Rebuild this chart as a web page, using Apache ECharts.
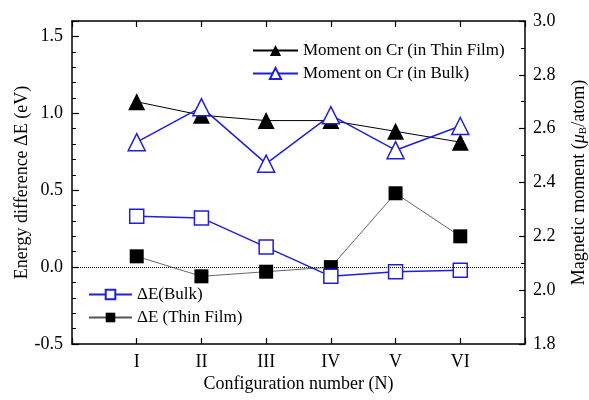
<!DOCTYPE html>
<html>
<head>
<meta charset="utf-8">
<script src="https://cdn.jsdelivr.net/npm/echarts@6/dist/echarts.min.js"></script>
<style>
  html, body { margin: 0; padding: 0; background: #fff; }
  #chart { width: 589px; height: 400px; }
</style>
</head>
<body>
<div id="chart"></div>
<script>
// configuration positions on the x axis (0 and 7 are empty padding slots)
const configPos = [1, 2, 3, 4, 5, 6];
const configLabels = ["", "I", "II", "III", "IV", "V", "VI", ""];

// energy difference (eV), left axis
const dEBulk = [0.33, 0.32, 0.13, -0.06, -0.03, -0.02];
const dEThinFilm = [0.07, -0.06, -0.03, 0.0, 0.48, 0.2];

// magnetic moment on Cr (muB/atom), right axis
const momentThinFilm = [2.7, 2.65, 2.63, 2.63, 2.59, 2.55];
const momentBulk = [2.55, 2.68, 2.47, 2.65, 2.52, 2.61];

const BLUE = "#1f1fd8";
const FONT = "'Liberation Serif', 'Times New Roman', serif";

const pairs = (vals) => vals.map((v, i) => [configPos[i], v]);

const chart = echarts.init(document.getElementById("chart"));

chart.setOption({
  animation: false,
  textStyle: { fontFamily: FONT, color: "#000" },
  grid: {
    left: 72,
    right: 64,
    top: 21,
    bottom: 56,
    containLabel: false,
    outerBoundsMode: "none",
  },
  legend: [
    {
      data: ["Moment on Cr (in Thin Film)", "Moment on Cr (in Bulk)"],
      orient: "vertical",
      left: 252,
      top: 42,
      padding: 0,
      itemWidth: 45,
      itemHeight: 14,
      itemGap: 6,
      textStyle: { fontFamily: FONT, fontSize: 17, color: "#000" },
    },
    {
      data: ["ΔE(Bulk)", "ΔE (Thin Film)"],
      orient: "vertical",
      left: 88,
      top: 286,
      padding: 0,
      itemWidth: 43,
      itemHeight: 12,
      itemGap: 6,
      textStyle: { fontFamily: FONT, fontSize: 17, color: "#000" },
    },
  ],
  xAxis: [
    {
      type: "value",
      min: 0,
      max: 7,
      interval: 1,
      name: "Configuration number (N)",
      nameLocation: "middle",
      nameGap: 31,
      nameMoveOverlap: false,
      nameTextStyle: { fontFamily: FONT, fontSize: 18, color: "#000" },
      axisLine: { onZero: false, lineStyle: { color: "#000", width: 1.5 } },
      axisTick: { inside: true, length: 6, lineStyle: { color: "#000", width: 1.2 } },
      axisLabel: {
        margin: 9,
        fontFamily: FONT,
        fontSize: 18,
        color: "#000",
        formatter: (v) => configLabels[Math.round(v)] || "",
      },
      splitLine: { show: false },
    },
    {
      type: "value",
      position: "top",
      min: 0,
      max: 7,
      interval: 1,
      axisLine: { onZero: false, lineStyle: { color: "#000", width: 1.5 } },
      axisTick: { inside: true, length: 6, lineStyle: { color: "#000", width: 1.2 } },
      axisLabel: { show: false },
      splitLine: { show: false },
    },
  ],
  yAxis: [
    {
      type: "value",
      min: -0.5,
      max: 1.6,
      interval: 0.1,
      name: "Energy difference ΔE (eV)",
      nameLocation: "middle",
      nameGap: 41,
      nameMoveOverlap: false,
      nameTextStyle: { fontFamily: FONT, fontSize: 18, color: "#000" },
      axisLine: { show: true, onZero: false, lineStyle: { color: "#000", width: 1.5 } },
      axisTick: { inside: true, length: 4, lineStyle: { color: "#000", width: 1 } },
      axisLabel: {
        margin: 9,
        interval: 0,
        fontFamily: FONT,
        fontSize: 18,
        color: "#000",
        showMaxLabel: false,
        formatter: (v) =>
          Math.abs(v * 2 - Math.round(v * 2)) < 1e-6 ? v.toFixed(1) : "",
      },
      splitLine: { show: false },
    },
    {
      type: "value",
      min: 1.8,
      max: 3.0,
      interval: 0.2,
      position: "right",
      name: "Magnetic moment ({mu|μ}{sub|B}/atom)",
      nameLocation: "middle",
      nameRotate: 90,
      nameGap: 45,
      nameMoveOverlap: false,
      nameTextStyle: {
        fontFamily: FONT,
        fontSize: 18,
        color: "#000",
        rich: {
          mu: { fontFamily: FONT, fontSize: 18, fontStyle: "italic", color: "#000" },
          sub: { fontFamily: FONT, fontSize: 11, color: "#000", padding: [8, 0, 0, 0] },
        },
      },
      axisLine: { show: true, onZero: false, lineStyle: { color: "#000", width: 1.5 } },
      axisTick: { inside: true, length: 6, lineStyle: { color: "#000", width: 1.2 } },
      minorTick: { show: true, splitNumber: 2, length: 4, lineStyle: { color: "#000", width: 1 } },
      axisLabel: {
        margin: 8,
        fontFamily: FONT,
        fontSize: 18,
        color: "#000",
        formatter: (v) => v.toFixed(1),
      },
      splitLine: { show: false },
    },
    {
      // longer major ticks for the left axis
      type: "value",
      min: -0.5,
      max: 1.6,
      interval: 0.5,
      position: "left",
      axisLine: { show: false, onZero: false },
      axisTick: { inside: true, length: 7, lineStyle: { color: "#000", width: 1.2 } },
      axisLabel: { show: false },
      splitLine: { show: false },
    },
  ],
  series: [
    {
      name: "ΔE (Thin Film)",
      type: "line",
      yAxisIndex: 0,
      data: pairs(dEThinFilm),
      symbol: "rect",
      symbolSize: 14,
      lineStyle: { color: "#555", width: 0.9 },
      itemStyle: { color: "#000" },
      markLine: {
        silent: true,
        symbol: "none",
        label: { show: false },
        lineStyle: { color: "#000", type: "dotted", width: 1 },
        data: [{ yAxis: 0 }],
      },
      z: 2,
    },
    {
      name: "Moment on Cr (in Thin Film)",
      type: "line",
      yAxisIndex: 1,
      data: pairs(momentThinFilm),
      symbol: "triangle",
      symbolSize: 17,
      lineStyle: { color: "#000", width: 1 },
      itemStyle: { color: "#000" },
      z: 2,
    },
    {
      name: "ΔE(Bulk)",
      type: "line",
      yAxisIndex: 0,
      data: pairs(dEBulk),
      symbol: "rect",
      symbolSize: 14,
      showAllSymbol: true,
      lineStyle: { color: BLUE, width: 1.5 },
      itemStyle: { color: "#fff", borderColor: BLUE, borderWidth: 1.5 },
      z: 3,
    },
    {
      name: "Moment on Cr (in Bulk)",
      type: "line",
      yAxisIndex: 1,
      data: pairs(momentBulk),
      symbol: "triangle",
      symbolSize: 17,
      lineStyle: { color: BLUE, width: 1.5 },
      itemStyle: { color: "#fff", borderColor: BLUE, borderWidth: 1.5 },
      z: 3,
    },
  ],
});
</script>
</body>
</html>
